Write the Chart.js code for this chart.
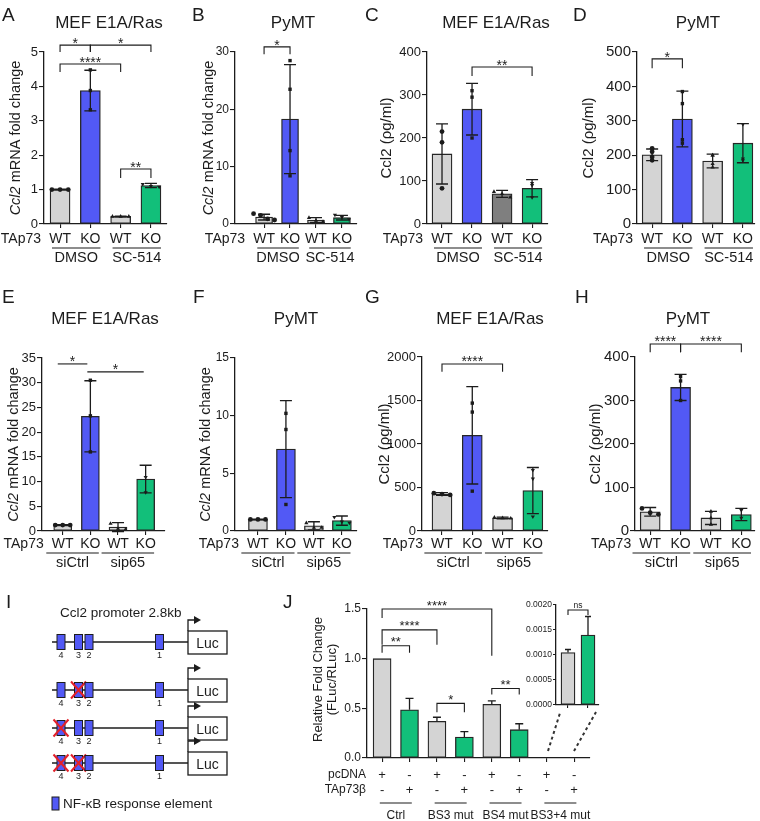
<!DOCTYPE html>
<html>
<head>
<meta charset="utf-8">
<script src="https://cdn.jsdelivr.net/npm/chart.js@4.4.1/dist/chart.umd.min.js"></script>
<style>
  body { margin:0; background:#fff; width:760px; height:821px; position:relative; overflow:hidden; }
  canvas { position:absolute; }
</style>
</head>
<body>
<canvas id="bg" width="760" height="821" style="left:0;top:0"></canvas>
<script>
const FONT = '"Liberation Sans", Arial, Helvetica, sans-serif';
const GRAY = '#d4d4d4', BLUE = '#5259f5', GREEN = '#12bf7a', DARK = '#7f7f7f', INK = '#1c1c1c';

// categories / labels
const genotypes = ['WT', 'KO', 'WT', 'KO'];
const treatGroups = ['DMSO', 'SC-514'];
const siGroups = ['siCtrl', 'sip65'];

// A - MEF E1A/Ras, qPCR, DMSO vs SC-514
const aMean = [1.0, 3.88, 0.22, 1.12];
const aSD = [0.01, 0.59, 0.01, 0.06];
const aPts = [[1, 1, 1], [4.48, 3.88, 3.32], [0.22, 0.22, 0.22], [1.16, 1.1, 1.08]];
const aSig = [[0, 1, 5.2, 5.0, 5.0, '*'], [1, 3, 5.2, 5.0, 5.0, '*'], [0, 2, 4.65, 4.42, 4.42, '****'], [2, 3, 1.6, 1.34, 1.34, '**']];

// B - PyMT, qPCR
const bMean = [1.2, 18.3, 0.7, 1.1];
const bSD = [0.5, 9.5, 0.4, 0.4];
const bPts = [[1.8, 1.5, 0.9, 0.7], [28.5, 23.5, 12.8, 8.4], [1.1, 0.6, 0.4], [1.6, 1.2, 0.8]];
const bSig = [[0, 1, 30.9, 29.6, 29.6, '*']];

// C - MEF E1A/Ras, ELISA
const cMean = [163, 267, 70, 83];
const cSD = [70, 60, 8, 20];
const cPts = [[215, 190, 83], [310, 295, 200], [75, 70, 62], [95, 90, 62]];
const cSig = [[1, 3, 365, 344, 344, '**']];

// D - PyMT, ELISA
const dMean = [201, 305, 183, 235];
const dSD = [17, 81, 20, 57];
const dPts = [[220, 210, 195, 185], [385, 350, 245, 235], [200, 200, 175, 165], [290, 190, 185]];
const dSig = [[0, 1, 480, 453, 453, '*']];

// E - MEF E1A/Ras, qPCR, siCtrl vs sip65
const eMean = [1.2, 23.2, 0.8, 10.5];
const eSD = [0.1, 7.2, 0.9, 2.8];
const ePts = [[1.2, 1.2, 1.2], [30.5, 23.3, 16], [1.5, 0.5, 0.3], [10.9, 7.8]];
const eSig = [[-0.18, 0.89, 33.8, 33.8, 33.8, '*'], [0.89, 2.93, 32.2, 32.2, 32.2, '*']];

// F - PyMT, qPCR
const fMean = [1.0, 7.1, 0.45, 0.9];
const fSD = [0.02, 4.2, 0.35, 0.4];
const fPts = [[1, 1, 1], [10.2, 8.8, 2.3], [0.7, 0.3, 0.3], [1.2, 0.8, 0.7]];
const fSig = [];

// G - MEF E1A/Ras, ELISA
const gMean = [425, 1100, 150, 465];
const gSD = [15, 560, 10, 265];
const gPts = [[435, 425, 415], [1470, 1367, 458], [155, 150, 145], [700, 600, 165]];
const gSig = [[0, 2, 1920, 1830, 1830, '****']];

// H - PyMT, ELISA
const hMean = [44, 330, 30, 38];
const hSD = [10, 30, 15, 14];
const hPts = [[52, 42, 38], [355, 345, 300], [45, 30, 15], [50, 48, 30]];
const hSig = [[0, 1, 430, 411, 411, '****'], [1, 3, 430, 411, 411, '****']];

// J - luciferase reporter
const jPcDNA = ['+', '-', '+', '-', '+', '-', '+', '-'];
const jTAp73 = ['-', '+', '-', '+', '-', '+', '-', '+'];
const jGroups = ['Ctrl', 'BS3 mut', 'BS4 mut', 'BS3+4 mut'];
const jMean = [1.0, 0.485, 0.37, 0.21, 0.54, 0.285, 0, 0];
const jSD = [0, 0.115, 0.04, 0.055, 0.035, 0.06, 0, 0];
const jSig = [[0, 1, 1.13, 1.06, 1.06, '**'], [0, 2, 1.29, 1.14, 1.14, '****'], [0, 4, 1.5, 1.41, 1.03, '****'],
              [2, 3, 0.55, 0.46, 0.46, '*'], [4, 5, 0.70, 0.64, 0.64, '**']];
// J inset (BS3+4 mut)
const kMean = [0.00105, 0.0014];
const kSD = [0.00006, 0.00037];
const kSig = [[0, 1, 0.0019, 0.0018, 0.0018, 'ns']];

// I - promoter constructs (mutated sites per row)
const promoterSites = ['4', '3', '2', '1'];
const constructs = [[], ['3'], ['4'], ['4', '3']];

Chart.defaults.font.family = FONT;
Chart.defaults.color = INK;

const mrnaTitle = [[{t: 'Ccl2', it: true}, {t: ' mRNA fold change'}]];
const elisaTitle = [[{t: 'Ccl2 (\u03c1g/ml)'}]];
const lucTitle = [[{t: 'Relative Fold Change'}], [{t: '(FLuc/RLuc)'}]];
const MARKS = ['circle', 'rect', 'triangle', 'triangle'];

function rotText(ctx, lines, cx, cy, size, gap) {
  lines.forEach((segs, li) => {
    ctx.save();
    ctx.translate(cx + li * gap + size * 0.36, cy);
    ctx.rotate(-Math.PI / 2);
    ctx.textAlign = 'left'; ctx.textBaseline = 'alphabetic';
    let total = 0;
    segs.forEach(s => { ctx.font = (s.it ? 'italic ' : '') + size + 'px ' + FONT; total += ctx.measureText(s.t).width; });
    let x = -total / 2;
    segs.forEach(s => {
      ctx.font = (s.it ? 'italic ' : '') + size + 'px ' + FONT;
      ctx.fillText(s.t, x, 0);
      x += ctx.measureText(s.t).width;
    });
    ctx.restore();
  });
}

function overlay(p) {
  return {
    id: 'ov' + p.id,
    afterDraw(chart) {
      const ctx = chart.ctx, xs = chart.scales.x, ys = chart.scales.y;
      const X = v => xs.getPixelForValue(v), Y = v => ys.getPixelForValue(v);
      const sp = X(1) - X(0), base = ys.bottom;
      ctx.save();
      ctx.strokeStyle = INK; ctx.fillStyle = INK;

      // error bars (SD)
      ctx.lineWidth = 1.3;
      p.mean.forEach((m, i) => {
        const s = p.sd[i];
        if (!s) return;
        const lo = p.upOnly ? m : m - s, hi = m + s, c = p.cap / 2;
        ctx.beginPath();
        ctx.moveTo(X(i), Y(lo)); ctx.lineTo(X(i), Y(hi));
        ctx.moveTo(X(i) - c, Y(hi)); ctx.lineTo(X(i) + c, Y(hi));
        if (!p.upOnly) { ctx.moveTo(X(i) - c, Y(lo)); ctx.lineTo(X(i) + c, Y(lo)); }
        ctx.stroke();
      });

      // significance brackets
      ctx.lineWidth = 1.1;
      p.sig.forEach(([a, b, top, le, re, lab]) => {
        const yT = Y(top);
        ctx.beginPath();
        ctx.moveTo(X(a), Y(le)); ctx.lineTo(X(a), yT); ctx.lineTo(X(b), yT); ctx.lineTo(X(b), Y(re));
        ctx.stroke();
        ctx.font = p.starSize + 'px ' + FONT;
        ctx.textAlign = 'center'; ctx.textBaseline = 'alphabetic';
        ctx.fillText(lab, (X(a) + X(b)) / 2, yT + p.starDy);
      });

      // y axis title
      if (p.yTitle) rotText(ctx, p.yTitle, p.yTitleX - p.box[0], (ys.top + ys.bottom) / 2 + (p.yTitleDy || 0), p.yTitleSize, 14);

      // genotype row + treatment groups
      if (p.groups) {
        ctx.font = '14px ' + FONT; ctx.textBaseline = 'alphabetic';
        ctx.textAlign = 'right';
        ctx.fillText('TAp73', X(0) - 19, base + p.lab[0]);
        ctx.textAlign = 'center';
        genotypes.forEach((g, i) => ctx.fillText(g, X(i), base + p.lab[0]));
        ctx.lineWidth = 1.1;
        p.groups.forEach((g, k) => {
          const c = (X(2 * k) + X(2 * k + 1)) / 2 - p.gShift, h = p.gHalf * sp;
          ctx.beginPath(); ctx.moveTo(c - h, base + p.lab[1]); ctx.lineTo(c + h, base + p.lab[1]); ctx.stroke();
          ctx.font = '14.5px ' + FONT;
          ctx.fillText(g, c, base + p.lab[2]);
          ctx.font = '14px ' + FONT;
        });
      }

      // luciferase rows
      if (p.rows) {
        ctx.font = '12px ' + FONT; ctx.textBaseline = 'alphabetic';
        ctx.textAlign = 'right';
        ctx.fillText('pcDNA', 366 - p.box[0], base + 20);
        ctx.fillText('TAp73\u03b2', 366 - p.box[0], base + 35);
        ctx.font = '13px ' + FONT; ctx.textAlign = 'center';
        jPcDNA.forEach((s, i) => ctx.fillText(s, X(i), base + 21));
        jTAp73.forEach((s, i) => ctx.fillText(s, X(i), base + 36));
        ctx.lineWidth = 1.1;
        jGroups.forEach((g, k) => {
          const c = (X(2 * k) + X(2 * k + 1)) / 2;
          ctx.beginPath(); ctx.moveTo(c - 16, base + 45); ctx.lineTo(c + 16, base + 45); ctx.stroke();
          ctx.font = '12px ' + FONT;
          ctx.fillText(g, c, base + 61);
        });
      }
      ctx.restore();
    }
  };
}

function buildPanel(p) {
  const [bx, by, bw, bh] = p.box;
  const [al, at, ar, ab] = p.area;
  const cv = document.createElement('canvas');
  cv.width = bw; cv.height = bh;
  cv.style.left = bx + 'px'; cv.style.top = by + 'px';
  document.body.appendChild(cv);

  const datasets = [{
    type: 'bar',
    data: p.mean.map((v, i) => ({x: i, y: v})),
    backgroundColor: p.colors,
    borderColor: '#262626', borderWidth: 1.3, borderSkipped: false,
    barThickness: p.barW, order: 1
  }];
  if (p.pts) {
    const pd = [], ps = [], pr = [];
    p.pts.forEach((arr, i) => {
      const tight = Math.max(...arr) - Math.min(...arr) < p.yMax * 0.04;
      arr.forEach((v, j) => {
        pd.push({x: i + (tight ? (j - (arr.length - 1) / 2) * 0.27 : 0), y: v});
        ps.push(MARKS[i]); pr.push(i === 3 ? 180 : 0);
      });
    });
    datasets.unshift({type: 'scatter', data: pd, pointStyle: ps, rotation: pr,
      pointRadius: 2.4, backgroundColor: INK, borderWidth: 0, order: 0});
  }

  new Chart(cv.getContext('2d'), {
    type: 'bar',
    data: {datasets},
    options: {
      responsive: false, animation: false, events: [],
      plugins: {legend: {display: false}, tooltip: {enabled: false}},
      layout: {padding: {left: 0, top: at - by, right: bx + bw - ar, bottom: 0}},
      scales: {
        x: {
          type: 'linear', min: p.xr[0], max: p.xr[1], offset: false,
          afterBuildTicks: s => { s.ticks = p.mean.map((_, i) => ({value: i})); },
          afterFit: s => { s.height = by + bh - ab; s.paddingLeft = 0; s.paddingRight = 0; },
          ticks: {callback: () => '', autoSkip: false, maxRotation: 0},
          grid: {drawOnChartArea: false, offset: false, tickLength: p.tickLen || 4, color: INK, lineWidth: 1.1},
          border: {color: INK, width: 1.3}
        },
        y: {
          min: 0, max: p.yMax,
          afterFit: s => { s.width = al - bx; s.paddingTop = 0; s.paddingBottom = 0; },
          ticks: {stepSize: p.yStep, font: {size: p.tickSize}, color: INK, padding: 1,
                  callback: p.fmt || (v => v)},
          grid: {drawOnChartArea: false, tickLength: p.tickLen || 5, color: INK, lineWidth: 1.1},
          border: {color: INK, width: 1.3}
        }
      }
    },
    plugins: [overlay(p)]
  });
}

const row1 = {lab: [19, 24, 38], gHalf: 0.8, gShift: -1, starSize: 14, starDy: 3, cap: 12};
const row2 = {lab: [17, 22, 36], gHalf: 0.95, gShift: 4, starSize: 14, starDy: 2, cap: 12};

const panels = [
  {...row1, id: 'A', box: [0, 28, 188, 244], area: [44, 52, 167, 224], xr: [-0.53, 3.53], yMax: 5, yStep: 1, tickSize: 13,
   barW: 20, mean: aMean, sd: aSD, pts: aPts, sig: aSig, colors: [GRAY, BLUE, GRAY, GREEN], groups: treatGroups,
   yTitle: mrnaTitle, yTitleX: 15, yTitleSize: 14.5},
  {...row1, id: 'B', box: [188, 28, 184, 244], area: [235, 52, 357, 224], xr: [-1.12, 3.58], yMax: 30, yStep: 10, tickSize: 12,
   barW: 17, mean: bMean, sd: bSD, pts: bPts, sig: bSig, colors: [GRAY, BLUE, GRAY, GREEN], groups: treatGroups,
   yTitle: mrnaTitle, yTitleX: 208, yTitleSize: 14.5},
  {...row1, id: 'C', box: [372, 28, 193, 244], area: [427, 52, 548, 224], xr: [-0.5, 3.53], yMax: 400, yStep: 100, tickSize: 13,
   barW: 20, mean: cMean, sd: cSD, pts: cPts, sig: cSig, colors: [GRAY, BLUE, DARK, GREEN], groups: treatGroups,
   yTitle: elisaTitle, yTitleX: 386, yTitleSize: 15},
  {...row1, id: 'D', box: [565, 28, 195, 244], area: [637, 52, 755, 224], xr: [-0.5, 3.4], yMax: 500, yStep: 100, tickSize: 15,
   barW: 20, mean: dMean, sd: dSD, pts: dPts, sig: dSig, colors: [GRAY, BLUE, GRAY, GREEN], groups: treatGroups,
   yTitle: elisaTitle, yTitleX: 588, yTitleSize: 15},
  {...row2, id: 'E', box: [0, 334, 188, 244], area: [42, 358, 165, 531], xr: [-0.75, 3.7], yMax: 35, yStep: 5, tickSize: 13,
   barW: 18, mean: eMean, sd: eSD, pts: ePts, sig: eSig, colors: [GRAY, BLUE, GRAY, GREEN], groups: siGroups,
   yTitle: mrnaTitle, yTitleX: 13, yTitleSize: 14.5},
  {...row2, id: 'F', box: [188, 334, 184, 244], area: [235, 358, 357, 531], xr: [-0.82, 3.54], yMax: 15, yStep: 5, tickSize: 12,
   barW: 19, mean: fMean, sd: fSD, pts: fPts, sig: fSig, colors: [GRAY, BLUE, GRAY, GREEN], groups: siGroups,
   yTitle: mrnaTitle, yTitleX: 205, yTitleSize: 14.5},
  {...row2, id: 'G', box: [372, 334, 193, 244], area: [422, 357, 548, 531], xr: [-0.66, 3.5], yMax: 2000, yStep: 500, tickSize: 13,
   barW: 20, mean: gMean, sd: gSD, pts: gPts, sig: gSig, colors: [GRAY, BLUE, GRAY, GREEN], groups: siGroups,
   yTitle: elisaTitle, yTitleX: 384, yTitleSize: 15},
  {...row2, id: 'H', box: [565, 334, 195, 244], area: [635, 357, 755, 531], xr: [-0.5, 3.45], yMax: 400, yStep: 100, tickSize: 15,
   barW: 20, mean: hMean, sd: hSD, pts: hPts, sig: hSig, colors: [GRAY, BLUE, GRAY, GREEN], groups: siGroups,
   yTitle: elisaTitle, yTitleX: 595, yTitleSize: 15},
  {id: 'J', box: [300, 590, 300, 231], area: [367, 609, 590, 758], xr: [-0.55, 7.58], yMax: 1.5, yStep: 0.5, tickSize: 12,
   barW: 18, cap: 8, upOnly: true, mean: jMean, sd: jSD, pts: null, sig: jSig, starSize: 13, starDy: 0.5,
   colors: jMean.map((_, i) => i % 2 ? GREEN : GRAY), rows: true, fmt: v => v.toFixed(1),
   yTitle: lucTitle, yTitleX: 317, yTitleSize: 13, yTitleDy: -4},
  {id: 'K', box: [522, 595, 82, 115], area: [556, 605, 599, 705], xr: [-0.6, 1.55], yMax: 0.002, yStep: 0.0005, tickSize: 8.5,
   tickLen: 3, barW: 14, cap: 6, upOnly: true, mean: kMean, sd: kSD, pts: null, sig: kSig, starSize: 8.5, starDy: -2,
   colors: [GRAY, GREEN], fmt: v => v.toFixed(4)}
];

// background: letters, titles, promoter diagram, inset connectors
const bg = document.getElementById('bg').getContext('2d');
function txt(s, x, y, size, align) {
  bg.font = size + 'px ' + FONT; bg.textAlign = align || 'left'; bg.textBaseline = 'alphabetic';
  bg.fillStyle = INK; bg.fillText(s, x, y);
}
[['A', 2, 21], ['B', 192, 21], ['C', 365, 21], ['D', 573, 21], ['E', 2, 303], ['F', 193, 303],
 ['G', 365, 303], ['H', 575, 303], ['I', 6, 608], ['J', 283, 608]].forEach(([s, x, y]) => txt(s, x, y, 19));
[['MEF E1A/Ras', 109, 28], ['PyMT', 293, 28], ['MEF E1A/Ras', 496, 28], ['PyMT', 698, 28],
 ['MEF E1A/Ras', 105, 324], ['PyMT', 296, 324], ['MEF E1A/Ras', 490, 324], ['PyMT', 688, 324]]
  .forEach(([s, x, y]) => txt(s, x, y, 17, 'center'));

// panel I
txt('Ccl2 promoter 2.8kb', 60, 617, 13.5);
const rowY = [642, 690, 728, 763];
const siteX = [61, 78.5, 89, 159.5];
bg.strokeStyle = INK;
rowY.forEach((y, r) => {
  bg.lineWidth = 1.5;
  bg.beginPath(); bg.moveTo(52, y); bg.lineTo(188, y); bg.stroke();
  promoterSites.forEach((s, k) => {
    const x = siteX[k];
    bg.fillStyle = BLUE; bg.fillRect(x - 4, y - 7.5, 8, 15);
    bg.lineWidth = 1; bg.strokeRect(x - 4, y - 7.5, 8, 15);
    txt(s, x, y + 16, 9, 'center');
    if (constructs[r].includes(s)) {
      bg.save(); bg.strokeStyle = '#e3202a'; bg.lineWidth = 2;
      bg.beginPath();
      bg.moveTo(x - 7.5, y - 8.5); bg.lineTo(x + 7.5, y + 8.5);
      bg.moveTo(x + 7.5, y - 8.5); bg.lineTo(x - 7.5, y + 8.5);
      bg.stroke(); bg.restore();
    }
  });
  bg.lineWidth = 1.3;
  bg.strokeRect(188, y - 11, 39, 23);
  txt('Luc', 207.5, y + 5.5, 14, 'center');
  bg.lineWidth = 1.3;
  bg.beginPath(); bg.moveTo(188, y - 11); bg.lineTo(188, y - 22); bg.lineTo(194, y - 22); bg.stroke();
  bg.fillStyle = INK;
  bg.beginPath(); bg.moveTo(194, y - 26); bg.lineTo(201, y - 22); bg.lineTo(194, y - 18); bg.closePath(); bg.fill();
});
bg.fillStyle = BLUE; bg.fillRect(52, 797, 7, 13);
bg.lineWidth = 1; bg.strokeRect(52, 797, 7, 13);
txt('NF-\u03baB response element', 63, 808, 13.5);

// dashed connectors from BS3+4 bars to the inset
bg.save();
bg.strokeStyle = '#333'; bg.lineWidth = 2; bg.setLineDash([3, 3]);
bg.beginPath(); bg.moveTo(548, 751); bg.lineTo(560, 713); bg.moveTo(574, 751); bg.lineTo(596, 712); bg.stroke();
bg.restore();

panels.forEach(buildPanel);
</script>
</body>
</html>
